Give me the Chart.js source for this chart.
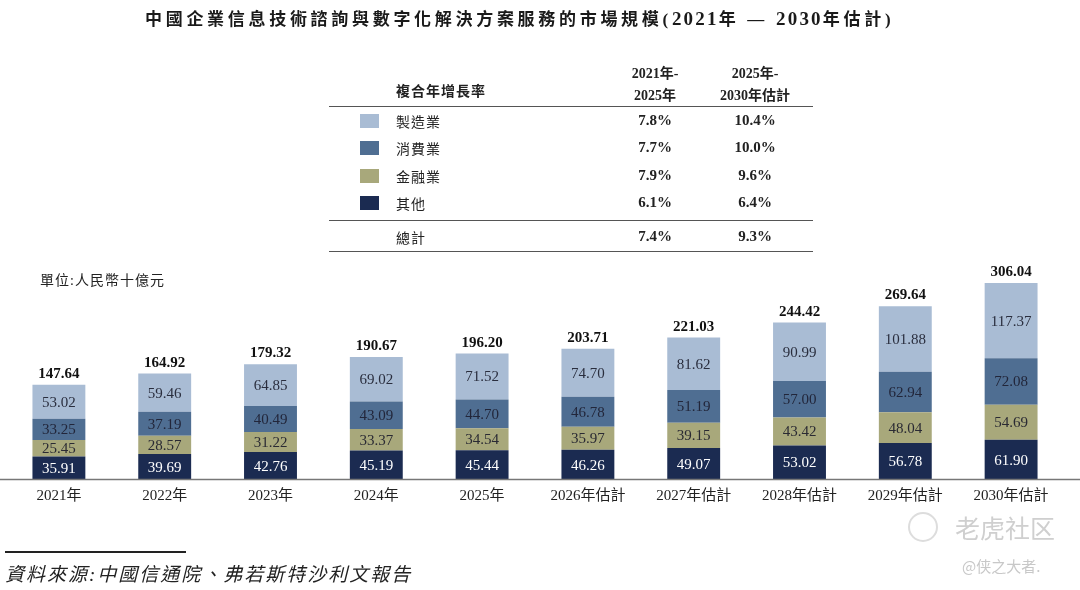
<!DOCTYPE html>
<html>
<head>
<meta charset="utf-8">
<script src="https://cdn.jsdelivr.net/npm/chart.js@4"></script>
<style>
  body { margin: 0; background: #fff; }
  #wrap { position: relative; width: 1080px; height: 590px; overflow: hidden;
          font-family: "Liberation Serif", "Noto Sans CJK TC", serif; color: #222; }
  #chart { position: absolute; left: 0; top: 0; }
  .abs { position: absolute; white-space: nowrap; }
  .title { left: 145px; top: 5px; font-size: 17px; font-weight: bold; letter-spacing: 3.7px; color: #1a1a1a; }
  .title .num { font-size: 19px; letter-spacing: 2.2px; }
  .hline { position: absolute; left: 329px; width: 484px; height: 0; border-top: 1.5px solid #555; }
  .cjk { font-size: 14px; letter-spacing: 1px; }
  .hdr { font-size: 14px; font-weight: bold; text-align: center; line-height: 22px; width: 100px; }
  .val { font-size: 15px; font-weight: bold; text-align: center; width: 80px; }
  .sw { position: absolute; left: 360px; width: 19px; height: 14px; }
</style>
</head>
<body>
<div id="wrap">
  <canvas id="chart" width="1080" height="590"></canvas>

  <div class="abs title">中國企業信息技術諮詢與數字化解決方案服務的市場規模(<span class="num">2021</span>年 — <span class="num">2030</span>年估計)</div>

  <div class="abs cjk" style="left:396px; top:80px; font-weight:bold;">複合年增長率</div>
  <div class="abs hdr" style="left:605px; top:63px;">2021年-<br>2025年</div>
  <div class="abs hdr" style="left:705px; top:63px;">2025年-<br>2030年估計</div>
  <div class="hline" style="top:106px;"></div>
  <div class="hline" style="top:220px;"></div>
  <div class="hline" style="top:251px;"></div>
  <div id="rows"></div>

  <div class="abs cjk" style="left:40px; top:269px; letter-spacing:1px;">單位:人民幣十億元</div>

  <div style="position:absolute; left:5px; top:551px; width:181px; border-top:2px solid #222;"></div>
  <div class="abs" style="left:5px; top:559px; font-size:19px; font-style:italic; letter-spacing:2px;">資料來源:中國信通院、弗若斯特沙利文報告</div>

  <div style="position:absolute; left:908px; top:512px; width:26px; height:26px; border:2px solid #ddd; border-radius:50%;"></div>
  <div class="abs" style="left:955px; top:509px; font-size:25px; color:#cfcfcf; font-family:'Noto Sans CJK SC';">老虎社区</div>
  <div class="abs" style="left:962px; top:555px; font-size:15px; color:#c8c8c8; font-family:'Noto Sans CJK SC';">@侠之大者.</div>
</div>

<script>
const years = ['2021年', '2022年', '2023年', '2024年', '2025年', '2026年估計', '2027年估計', '2028年估計', '2029年估計', '2030年估計'];
const other = [35.91, 39.69, 42.76, 45.19, 45.44, 46.26, 49.07, 53.02, 56.78, 61.90];
const finance = [25.45, 28.57, 31.22, 33.37, 34.54, 35.97, 39.15, 43.42, 48.04, 54.69];
const consumer = [33.25, 37.19, 40.49, 43.09, 44.70, 46.78, 51.19, 57.00, 62.94, 72.08];
const manufacturing = [53.02, 59.46, 64.85, 69.02, 71.52, 74.70, 81.62, 90.99, 101.88, 117.37];
const totals = [147.64, 164.92, 179.32, 190.67, 196.20, 203.71, 221.03, 244.42, 269.64, 306.04];

// CAGR table
const segNames = ['製造業', '消費業', '金融業', '其他'];
const cagr2125 = ['7.8%', '7.7%', '7.9%', '6.1%'];
const cagr2530 = ['10.4%', '10.0%', '9.6%', '6.4%'];
const totalCagr = ['7.4%', '9.3%'];

const colors = {
  manufacturing: '#a9bcd4',
  consumer: '#4f6e92',
  finance: '#a8a87b',
  other: '#1b2b51'
};
const segColors = [colors.manufacturing, colors.consumer, colors.finance, colors.other];

const rows = document.getElementById('rows');
const rowY = [121, 148, 176, 203];
segNames.forEach((name, i) => {
  const y = rowY[i];
  rows.insertAdjacentHTML('beforeend',
    `<div class="sw" style="top:${y - 7}px; background:${segColors[i]};"></div>` +
    `<div class="abs cjk" style="left:396px; top:${y - 10}px;">${name}</div>` +
    `<div class="abs val" style="left:615px; top:${y - 9}px;">${cagr2125[i]}</div>` +
    `<div class="abs val" style="left:715px; top:${y - 9}px;">${cagr2530[i]}</div>`);
});
rows.insertAdjacentHTML('beforeend',
  `<div class="abs cjk" style="left:396px; top:227px;">總計</div>` +
  `<div class="abs val" style="left:615px; top:228px;">${totalCagr[0]}</div>` +
  `<div class="abs val" style="left:715px; top:228px;">${totalCagr[1]}</div>`);

const FONT = '"Liberation Serif", "Noto Sans CJK TC", serif';

const labelPlugin = {
  id: 'barLabels',
  afterDatasetsDraw(chart) {
    const ctx = chart.ctx;
    ctx.save();
    ctx.textAlign = 'center';
    ctx.textBaseline = 'middle';
    chart.data.datasets.forEach((ds, di) => {
      const meta = chart.getDatasetMeta(di);
      meta.data.forEach((bar, i) => {
        ctx.font = '15px ' + FONT;
        ctx.fillStyle = ds.labelColor;
        ctx.fillText(ds.data[i].toFixed(2), bar.x, (bar.y + bar.base) / 2 + 1);
      });
    });
    // totals above the top segment
    const topMeta = chart.getDatasetMeta(chart.data.datasets.length - 1);
    ctx.font = 'bold 15px ' + FONT;
    ctx.fillStyle = '#111';
    ctx.textBaseline = 'alphabetic';
    topMeta.data.forEach((bar, i) => {
      ctx.fillText(totals[i].toFixed(2), bar.x, bar.y - 7);
    });
    ctx.restore();
  },
  afterDraw(chart) {
    const ctx = chart.ctx;
    const y0 = chart.scales.y.getPixelForValue(0);
    ctx.save();
    ctx.strokeStyle = '#777';
    ctx.lineWidth = 1.5;
    ctx.beginPath();
    ctx.moveTo(0, y0);
    ctx.lineTo(chart.width, y0);
    ctx.stroke();
    ctx.restore();
  }
};

new Chart(document.getElementById('chart'), {
  type: 'bar',
  data: {
    labels: years,
    datasets: [
      { label: '其他', data: other, backgroundColor: colors.other, labelColor: '#fff' },
      { label: '金融業', data: finance, backgroundColor: colors.finance, labelColor: '#2a2a33' },
      { label: '消費業', data: consumer, backgroundColor: colors.consumer, labelColor: '#22263a' },
      { label: '製造業', data: manufacturing, backgroundColor: colors.manufacturing, labelColor: '#2a2e3e' }
    ]
  },
  options: {
    responsive: false,
    animation: false,
    layout: { padding: { left: 6, right: 16, top: 274, bottom: 76.5 } },
    datasets: { bar: { barPercentage: 0.5, categoryPercentage: 1 } },
    plugins: { legend: { display: false }, tooltip: { enabled: false } },
    scales: {
      x: {
        stacked: true,
        grid: { display: false, drawTicks: false },
        border: { display: false },
        ticks: { color: '#222', padding: 8, font: { family: FONT, size: 15 } }
      },
      y: {
        stacked: true,
        display: false,
        min: 0,
        max: 320
      }
    }
  },
  plugins: [labelPlugin]
});
</script>
</body>
</html>
